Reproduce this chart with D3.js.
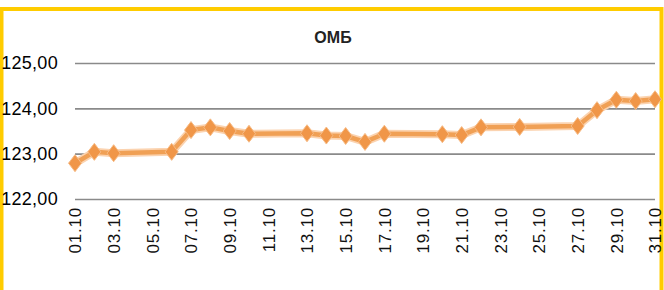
<!DOCTYPE html>
<html>
<head>
<meta charset="utf-8">
<script src="https://cdn.jsdelivr.net/npm/d3@7"></script>
<style>
  html, body { margin: 0; padding: 0; background: #fff; }
  svg { display: block; }
</style>
</head>
<body>
<div id="chart"></div>
<script>
// ОМБ — курс за октябрь (только рабочие дни)
const days = [1, 2, 3, 6, 7, 8, 9, 10, 13, 14, 15, 16, 17, 20, 21, 22, 24, 27, 28, 29, 30, 31];
const values = [122.79, 123.04, 123.01, 123.04, 123.52, 123.58, 123.50, 123.44, 123.45, 123.40, 123.39,
                123.26, 123.44, 123.43, 123.41, 123.58, 123.59, 123.61, 123.96, 124.19, 124.16, 124.20];
const tickDays = [1, 3, 5, 7, 9, 11, 13, 15, 17, 19, 21, 23, 25, 27, 29, 31];
const yTicks = [122, 123, 124, 125];
const title = "ОМБ";

const W = 664, H = 290;
const margin = {left: 75, right: 9, top: 63, bottom: 91};

const svg = d3.select("#chart").append("svg")
    .attr("width", W)
    .attr("height", H);

// жёлтая рамка
svg.append("rect")
    .attr("x", 1.5)
    .attr("y", 9)
    .attr("width", W - 4)
    .attr("height", H + 10)
    .attr("fill", "none")
    .attr("stroke", "#FFCC00")
    .attr("stroke-width", 4);

const x = d3.scaleLinear()
    .domain([1, 31])
    .range([margin.left, W - margin.right]);

const y = d3.scaleLinear()
    .domain([122, 125])
    .range([H - margin.bottom, margin.top]);

const font = "'Liberation Sans', Arial, sans-serif";

// сетка + подписи оси Y
const yAxis = d3.axisLeft(y)
    .tickValues(yTicks)
    .tickSize(-(x.range()[1] - x.range()[0]))
    .tickPadding(17)
    .tickFormat(d => d3.format(".2f")(d).replace(".", ","));

const gy = svg.append("g")
    .attr("transform", `translate(${margin.left},0)`)
    .call(yAxis);
gy.select(".domain").remove();
gy.selectAll(".tick line")
    .attr("stroke", "#8a8a8a")
    .attr("stroke-width", 1.6);
gy.selectAll(".tick text")
    .attr("fill", "#000")
    .style("font-family", font)
    .style("font-size", "18px")
    .style("letter-spacing", "0.3px");

// подписи оси X (повёрнутые)
const xAxis = d3.axisBottom(x)
    .tickValues(tickDays)
    .tickSize(0)
    .tickPadding(0)
    .tickFormat(d => d3.format("02d")(d) + ".10");

const gx = svg.append("g")
    .attr("transform", `translate(0,${H - margin.bottom})`)
    .call(xAxis);
gx.select(".domain").remove();
gx.selectAll(".tick text")
    .attr("transform", "rotate(-90)")
    .attr("x", -8)
    .attr("y", 0)
    .attr("dy", "0.35em")
    .attr("text-anchor", "end")
    .attr("fill", "#111")
    .style("font-family", font)
    .style("font-size", "17px")
    .style("letter-spacing", "0.8px");

// заголовок
svg.append("text")
    .attr("x", 333)
    .attr("y", 43)
    .attr("text-anchor", "middle")
    .attr("fill", "#222")
    .style("font-family", font)
    .style("font-weight", "bold")
    .style("font-size", "16px")
    .text(title);

const data = days.map((d, i) => ({day: d, value: values[i]}));

const line = d3.line()
    .x(d => x(d.day))
    .y(d => y(d.value));

// мягкое свечение под линией
svg.append("path")
    .datum(data)
    .attr("d", line)
    .attr("fill", "none")
    .attr("stroke", "#FBD3B0")
    .attr("stroke-width", 8)
    .attr("stroke-linejoin", "round");

svg.append("path")
    .datum(data)
    .attr("d", line)
    .attr("fill", "none")
    .attr("stroke", "#F0A055")
    .attr("stroke-width", 4.5)
    .attr("stroke-linejoin", "round");

// маркеры-ромбы
const diamond = {
    draw(ctx, size) {
        const w = 6.5, h = 8.5;
        ctx.moveTo(0, -h);
        ctx.lineTo(w, 0);
        ctx.lineTo(0, h);
        ctx.lineTo(-w, 0);
        ctx.closePath();
    }
};

svg.selectAll(".marker")
    .data(data)
    .join("path")
    .attr("class", "marker")
    .attr("transform", d => `translate(${x(d.day)},${y(d.value)})`)
    .attr("d", d3.symbol().type(diamond))
    .attr("fill", "#F09648")
    .attr("stroke", "#F7BC87")
    .attr("stroke-width", 1);
</script>
</body>
</html>
